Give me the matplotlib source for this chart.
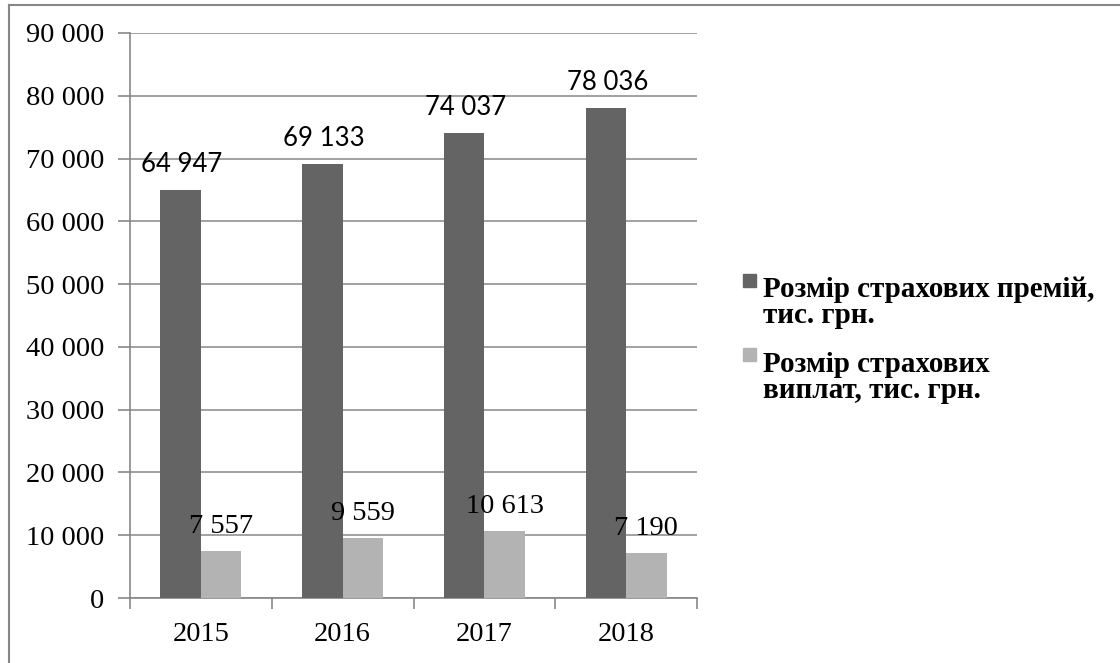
import matplotlib
matplotlib.use("Agg")
import matplotlib.pyplot as plt
from matplotlib.ticker import FuncFormatter, FixedLocator
from matplotlib.patches import Rectangle
from matplotlib.lines import Line2D
import numpy as np

years = ["2015", "2016", "2017", "2018"]
premiums = [64947, 69133, 74037, 78036]
payouts = [7557, 9559, 10613, 7190]
series_names = [["Розмір страхових премій,", "тис. грн."], ["Розмір страхових", "виплат, тис. грн."]]
colors = ["#646464", "#b3b3b3"]
gray = "#878787"

W, H = 1120, 663
fig = plt.figure(figsize=(W / 100, H / 100), dpi=100)
ax = fig.add_axes([130 / W, 1 - 598 / H, (697 - 130) / W, (598 - 33) / H])

x = np.arange(len(years))
bw = 1 / 3.5
b1 = ax.bar(x - bw / 2, premiums, bw, color=colors[0], zorder=3)
b2 = ax.bar(x + bw / 2, payouts, bw, color=colors[1], zorder=3)

ax.set_xlim(-0.5, len(years) - 0.5)
ax.set_ylim(0, 90000)
ax.yaxis.set_major_locator(FixedLocator(np.arange(0, 90001, 10000)))
ax.yaxis.set_major_formatter(FuncFormatter(lambda v, p: f"{v:,.0f}".replace(",", " ")))
ax.set_xticks(x)
ax.set_xticklabels(years)
ax.set_xticks(np.arange(-0.5, len(years)), minor=True)

serif = "Liberation Serif"
for lab in ax.get_yticklabels() + ax.get_xticklabels():
    lab.set_fontfamily(serif)
    lab.set_fontsize(20.5)
    lab.set_color("black")

ax.tick_params(axis="y", direction="out", length=9, width=1.2, color=gray, pad=9.5)
ax.tick_params(axis="x", which="major", length=0, pad=17)
ax.tick_params(axis="x", which="minor", direction="out", length=8, width=1.2, color=gray)

ax.grid(axis="y", color=gray, linewidth=1.1, zorder=0)
ax.set_axisbelow(True)
for s in ["top", "right"]:
    ax.spines[s].set_visible(False)
for s in ["left", "bottom"]:
    ax.spines[s].set_color(gray)
    ax.spines[s].set_linewidth(1.2)

for rect, v in zip(b1, premiums):
    ax.annotate(f"{v:,}".replace(",", " "), (rect.get_x() + rect.get_width() / 2, v),
                xytext=(1, 13), textcoords="offset points", ha="center", va="baseline",
                fontsize=18.5, family=["Lato", "DejaVu Sans"], color="black", zorder=5)
for rect, v in zip(b2, payouts):
    ax.annotate(f"{v:,}".replace(",", " "), (rect.get_x() + rect.get_width() / 2, v),
                xytext=(0, 13), textcoords="offset points", ha="center", va="baseline",
                fontsize=20.5, family=serif, color="black", zorder=5)

# legend (manual, marker aligned with first line)
leg_items = [(743, 274, 297), (743, 348, 372)]
line_step = 26
for (mx, my, base), lines, c in zip(leg_items, series_names, colors):
    fig.patches.append(Rectangle((mx / W, 1 - (my + 13) / H), 13 / W, 13 / H,
                                 transform=fig.transFigure, color=c))
    for i, ln in enumerate(lines):
        fig.text(763 / W, 1 - (base + i * line_step) / H, ln, family=serif, weight="bold",
                 fontsize=21, va="baseline", ha="left")

# outer border
fig.lines.append(Line2D([8.5 / W, 1], [1 - 4.5 / H, 1 - 4.5 / H], transform=fig.transFigure,
                        color=gray, linewidth=1.5))
fig.lines.append(Line2D([8.5 / W, 8.5 / W], [0, 1 - 4.5 / H], transform=fig.transFigure,
                        color=gray, linewidth=1.5))

fig.savefig("out.png", dpi=100, facecolor="white")
